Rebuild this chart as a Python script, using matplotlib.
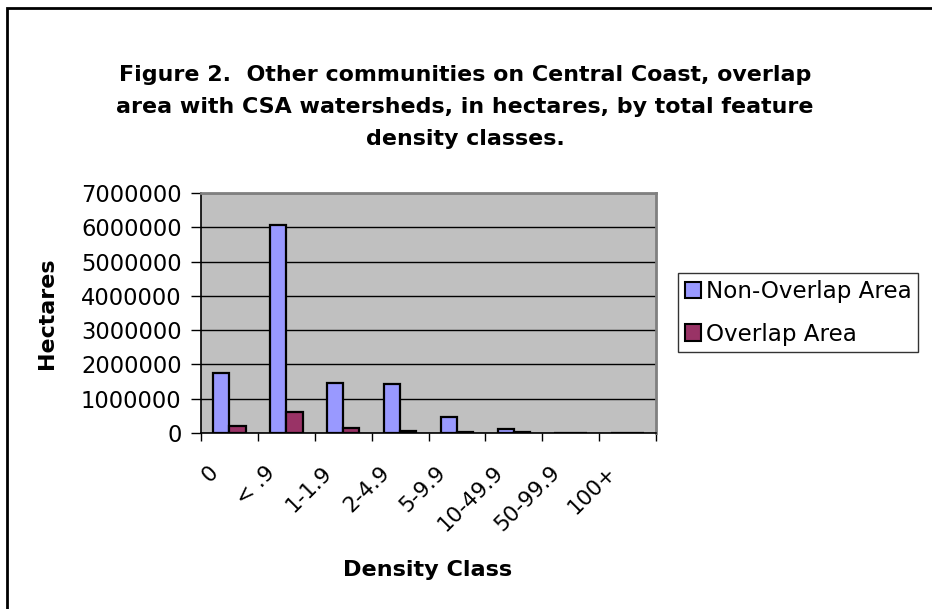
import matplotlib
matplotlib.use("Agg")
import matplotlib.pyplot as plt
import matplotlib.transforms as mtransforms
from matplotlib.patches import Rectangle
import numpy as np

categories = ["0", "< .9", "1-1.9", "2-4.9", "5-9.9", "10-49.9", "50-99.9", "100+"]
non_overlap = [1740000, 6060000, 1460000, 1440000, 470000, 120000, 0, 0]
overlap = [200000, 600000, 140000, 60000, 30000, 20000, 0, 0]
series_names = ["Non-Overlap Area", "Overlap Area"]
yticks = [0, 1000000, 2000000, 3000000, 4000000, 5000000, 6000000, 7000000]

W, H = 932, 609
plt.rcParams["font.family"] = ["DejaVu Sans"]
fig = plt.figure(figsize=(W / 100, H / 100), dpi=100)
fig.patch.set_facecolor("white")

ax = fig.add_axes([201 / W, 1 - 433 / H, 455 / W, 240 / H])
ax.set_facecolor("#C0C0C0")

x = np.arange(len(categories))
bw = 0.286
ax.bar(x - bw / 2, non_overlap, width=bw, color="#9999FF", edgecolor="black",
       linewidth=1.6, label=series_names[0], zorder=3)
ax.bar(x + bw / 2, overlap, width=bw, color="#993366", edgecolor="black",
       linewidth=1.6, label=series_names[1], zorder=3)

ax.set_xlim(-0.5, len(categories) - 0.5)
ax.set_ylim(0, 7000000)
ax.set_yticks(yticks)
ax.set_yticklabels([str(v) for v in yticks], fontsize=16.3)
ax.yaxis.grid(True, color="black", linewidth=1.0, zorder=1)
ax.set_axisbelow(True)

# category boundary ticks
ax.set_xticks(np.arange(len(categories) + 1) - 0.5)
ax.set_xticklabels([])
ax.tick_params(axis="x", which="major", direction="out", length=6, width=1, color="black")
ax.set_xticks(x, minor=True)
ax.set_xticklabels(categories, minor=True, fontsize=15.5, rotation=45,
                   ha="right", va="center", rotation_mode="anchor")
ax.tick_params(axis="x", which="minor", length=0, pad=26)
offset = mtransforms.ScaledTranslation(-14 / 100, 0, fig.dpi_scale_trans)
for lab in ax.get_xticklabels(minor=True):
    lab.set_transform(lab.get_transform() + offset)

ax.tick_params(axis="y", direction="out", length=7, width=1, color="black", pad=7)

for s in ["top", "right"]:
    ax.spines[s].set_color("#808080")
    ax.spines[s].set_linewidth(2)
ax.spines["left"].set_color("black")
ax.spines["left"].set_linewidth(1.2)
ax.spines["bottom"].set_color("black")
ax.spines["bottom"].set_linewidth(1.2)

fig.text(465 / W, 1 - 107 / H,
         "Figure 2.  Other communities on Central Coast, overlap\n"
         "area with CSA watersheds, in hectares, by total feature\n"
         "density classes.",
         ha="center", va="center", fontsize=15.9, fontweight="bold", linespacing=1.78)
fig.text(47 / W, 1 - 313 / H, "Hectares", rotation=90, ha="center", va="center",
         fontsize=15.9, fontweight="bold")
fig.text(428 / W, 1 - 570 / H, "Density Class", ha="center", va="center",
         fontsize=16.1, fontweight="bold")

leg = fig.legend(loc="upper left", bbox_to_anchor=(678 / W, 1 - 273 / H),
                 fontsize=16.6, frameon=True, fancybox=False, shadow=False,
                 handlelength=0.7, handleheight=0.7, handletextpad=0.2,
                 borderpad=0.3, labelspacing=0.85, borderaxespad=0)
leg.get_frame().set_edgecolor("black")
leg.get_frame().set_linewidth(1.0)
for h in leg.legend_handles:
    h.set_linewidth(1.5)

fig.patches.append(Rectangle((7 / W, -0.1), 1.2, 1 - 8 / H + 0.1,
                             transform=fig.transFigure, fill=False,
                             edgecolor="black", linewidth=2))

fig.savefig("out.png", dpi=100)
